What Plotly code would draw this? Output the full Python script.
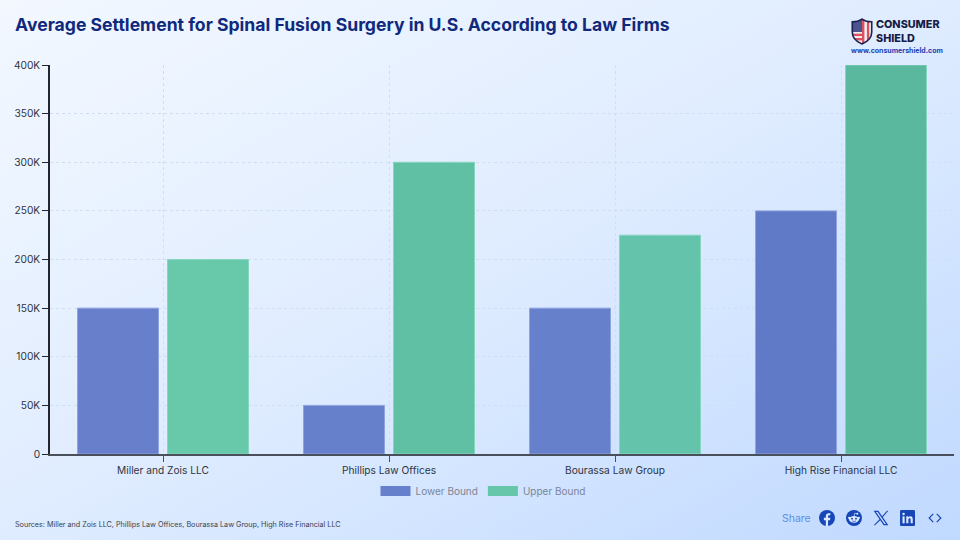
import base64
import plotly.graph_objects as go

W, H = 960, 540
categories = ["Miller and Zois LLC", "Phillips Law Offices", "Bourassa Law Group", "High Rise Financial LLC"]
lower_bound = [150000, 50000, 150000, 250000]
upper_bound = [200000, 300000, 225000, 400000]
lower_colors = ["#6880cc", "#6680cc", "#6680cb", "#607ac8"]
upper_colors = ["#68c8aa", "#5fc0a3", "#64c4ab", "#5ab89e"]
tick_vals = [0, 50000, 100000, 150000, 200000, 250000, 300000, 350000, 400000]
tick_text = ["0", "50K", "100K", "150K", "200K", "250K", "300K", "350K", "400K"]
title = "Average Settlement for Spinal Fusion Surgery in U.S. According to Law Firms"
sources = "Sources: Miller and Zois LLC, Phillips Law Offices, Bourassa Law Group, High Rise Financial LLC"


def uri(svg):
    return "data:image/svg+xml;base64," + base64.b64encode(svg.encode()).decode()


bg = uri(f'''<svg xmlns="http://www.w3.org/2000/svg" width="{W}" height="{H}" viewBox="0 0 {W} {H}" preserveAspectRatio="none">
<defs><linearGradient id="g" x1="0" y1="0" x2="1" y2="1">
<stop offset="0" stop-color="#f3f8ff"/><stop offset="0.5" stop-color="#dfecff"/><stop offset="1" stop-color="#c0d9ff"/>
</linearGradient></defs><rect width="{W}" height="{H}" fill="url(#g)"/></svg>''')

shield = uri('''<svg xmlns="http://www.w3.org/2000/svg" width="84" height="100" viewBox="0 0 84 100">
<defs><clipPath id="c"><path d="M42 4 C52 11 66 14 78 14 L78 52 C78 74 60 89 42 96 C24 89 6 74 6 52 L6 14 C18 14 32 11 42 4Z"/></clipPath></defs>
<g clip-path="url(#c)"><rect width="84" height="100" fill="#f5f5f8"/>
<rect x="42" y="0" width="9" height="100" fill="#d9525e"/><rect x="60" y="0" width="9" height="100" fill="#d9525e"/>
<rect x="0" y="58" width="42" height="9" fill="#d9525e"/><rect x="0" y="74" width="42" height="9" fill="#d9525e"/>
<rect x="0" y="0" width="42" height="52" fill="#4a5590"/></g>
<path d="M42 4 C52 11 66 14 78 14 L78 52 C78 74 60 89 42 96 C24 89 6 74 6 52 L6 14 C18 14 32 11 42 4Z" fill="none" stroke="#1c2350" stroke-width="6"/></svg>''')

blue = "#1746b8"
icon_fb = uri(f'''<svg xmlns="http://www.w3.org/2000/svg" viewBox="0 0 24 24"><circle cx="12" cy="12" r="12" fill="{blue}"/>
<path d="M13.6 24V15.2H16.5L17 11.8H13.6V9.7C13.6 8.7 14 8 15.4 8H17.1V5C16.6 4.9 15.6 4.8 14.6 4.8C12 4.8 10.2 6.4 10.2 9.3V11.8H7.3V15.2H10.2V24Z" fill="#dbe8ff"/></svg>''')
icon_rd = uri(f'''<svg xmlns="http://www.w3.org/2000/svg" viewBox="0 0 24 24"><circle cx="12" cy="12" r="12" fill="{blue}"/>
<ellipse cx="12" cy="14" rx="7.5" ry="5" fill="#dbe8ff"/><circle cx="4.8" cy="11.8" r="1.8" fill="#dbe8ff"/><circle cx="19.2" cy="11.8" r="1.8" fill="#dbe8ff"/>
<circle cx="17" cy="5.5" r="1.5" fill="#dbe8ff"/><path d="M12 9.5L13 5L17 5.5" stroke="#dbe8ff" fill="none"/>
<circle cx="9" cy="13" r="1.4" fill="{blue}"/><circle cx="15" cy="13" r="1.4" fill="{blue}"/><path d="M9 16.2C10.5 17.4 13.5 17.4 15 16.2" stroke="{blue}" fill="none"/></svg>''')
icon_x = uri(f'''<svg xmlns="http://www.w3.org/2000/svg" viewBox="0 0 24 24">
<path d="M1 1H8L23 23H16ZM4.5 3L17 21H19.5L7 3Z" fill="{blue}" fill-rule="evenodd"/><path d="M21 1H23L14 11.5L13 10ZM10.5 13.2L11.6 14.7L3 23H1Z" fill="{blue}"/></svg>''')
icon_li = uri(f'''<svg xmlns="http://www.w3.org/2000/svg" viewBox="0 0 24 24"><rect width="24" height="24" rx="2" fill="{blue}"/>
<rect x="4" y="9.5" width="3.4" height="10.5" fill="#dbe8ff"/><circle cx="5.7" cy="6" r="2" fill="#dbe8ff"/>
<path d="M10 9.5H13.2V11C14 9.8 15.2 9.2 16.6 9.2C19.2 9.2 20.4 11 20.4 13.8V20H17V14.4C17 13 16.5 12.2 15.3 12.2C14.1 12.2 13.4 13 13.4 14.4V20H10Z" fill="#dbe8ff"/></svg>''')
icon_code = uri(f'''<svg xmlns="http://www.w3.org/2000/svg" viewBox="0 0 24 24"><path d="M9 5L2 12L9 19M15 5L22 12L15 19" fill="none" stroke="{blue}" stroke-width="2"/></svg>''')


def box(x, y, w, h, src, layer="above", sizing="stretch"):
    return dict(source=src, xref="paper", yref="paper", x=x / W, y=1 - y / H, sizex=w / W, sizey=h / H,
                xanchor="left", yanchor="top", sizing=sizing, layer=layer)


def note(x, y, text, size, color, anchor="left", weight=None, font="Inter"):
    return dict(xref="paper", yref="paper", x=x / W, y=1 - y / H, text=text, showarrow=False,
                xanchor=anchor, yanchor="middle", align=anchor, borderpad=0, xshift=-1,
                font=dict(family=font, size=size, color=color, weight=weight))


fig = go.Figure()
fig.add_bar(name="Lower Bound", x=categories, y=lower_bound, showlegend=False, legendgroup="lower",
            marker=dict(color=lower_colors, line=dict(color="#8fa3de", width=1)))
fig.add_bar(name="Upper Bound", x=categories, y=upper_bound, showlegend=False, legendgroup="upper",
            marker=dict(color=upper_colors, line=dict(color="#86d6bd", width=1)))
fig.add_scatter(name="Lower Bound", x=[None], y=[None], mode="lines", legendgroup="lower",
                line=dict(color="#6680cc", width=12))
fig.add_scatter(name="Upper Bound", x=[None], y=[None], mode="lines", legendgroup="upper",
                line=dict(color="#66c6a9", width=12))

grid = "#d0def2"
fig.update_layout(
    width=W, height=H, autosize=False,
    margin=dict(l=0, r=0, t=0, b=0),
    paper_bgcolor="#dceaff", plot_bgcolor="rgba(0,0,0,0)",
    barmode="group", bargap=0.2035, bargroupgap=0.1,
    font=dict(family="Inter", color="#333a4a"),
    xaxis=dict(domain=[50 / W, 954 / W], type="category", range=[-0.5, 3.5], showline=True, linecolor="#4a4f5c", linewidth=1.5,
               ticks="outside", ticklen=6, tickcolor="#4a4f5c", tickwidth=1,
               showgrid=True, gridcolor=grid, griddash="dot", gridwidth=1,
               tickfont=dict(size=10.2, color="#2f3542"), automargin=False),
    yaxis=dict(domain=[1 - 454 / H, 1 - 65 / H], range=[0, 400000], tickvals=tick_vals, ticktext=tick_text,
               showline=True, linecolor="#23262e", linewidth=1.5,
               ticks="outside", ticklen=6, tickcolor="#23262e", tickwidth=1,
               showgrid=True, gridcolor=grid, griddash="dot", gridwidth=1, zeroline=False,
               tickfont=dict(size=10.2, color="#2f3542"), automargin=False),
    legend=dict(orientation="h", xref="paper", yref="paper", x=483 / W, y=1 - 491 / H, xanchor="center", yanchor="middle",
                font=dict(size=10, color="#7c8594"), itemwidth=30, traceorder="normal",
                bgcolor="rgba(0,0,0,0)"),
    images=[
        box(0, 0, W, H, bg, layer="below"),
        box(850, 18, 24, 27, shield, sizing="contain"),
        box(819, 510, 16, 16, icon_fb),
        box(846, 510, 16, 16, icon_rd),
        box(873, 510, 16, 16, icon_x),
        box(900, 510, 15, 16, icon_li),
        box(928, 511, 14, 14, icon_code),
    ],
    annotations=[
        note(15, 25, title, 17.6, "#10297c", weight=700),
        note(876, 24.5, "CONSUMER", 10.8, "#171c46", weight=800),
        note(876, 38, "SHIELD", 10.8, "#171c46", weight=800),
        note(851, 50.5, "www.consumershield.com", 7, "#1f3fae", weight=700),
        note(15, 524, sources, 7.2, "#3a4150"),
        note(782, 518.5, "Share", 10.5, "#5f8fe0"),
    ],
)
fig.write_html("out.html", config={"displayModeBar": False},
               post_script="document.body.style.margin='0';document.body.style.background='#dceaff';")
